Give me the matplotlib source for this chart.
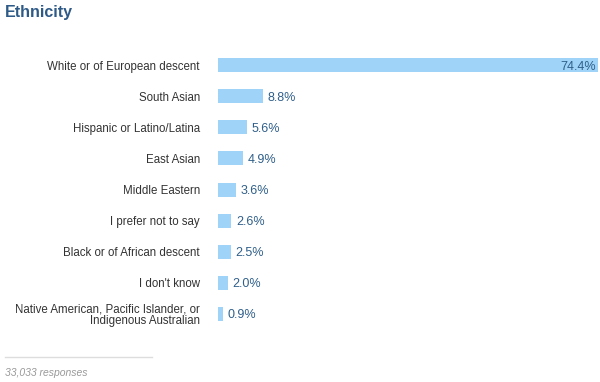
import matplotlib.pyplot as plt

plt.rcParams['font.family'] = ['Liberation Sans', 'DejaVu Sans']

categories = [
    'White or of European descent',
    'South Asian',
    'Hispanic or Latino/Latina',
    'East Asian',
    'Middle Eastern',
    'I prefer not to say',
    'Black or of African descent',
    "I don't know",
    'Native American, Pacific Islander, or\nIndigenous Australian',
]
values = [74.4, 8.8, 5.6, 4.9, 3.6, 2.6, 2.5, 2.0, 0.9]
responses = '33,033 responses'

bar_color = '#9fd4f8'
value_color = '#2f5f8a'

fig = plt.figure(figsize=(6, 3.82), dpi=100)
ax = fig.add_axes([218 / 600, 1 - 329.5 / 382, 380 / 600, 280 / 382])

pos = list(range(len(categories)))
ax.barh(pos, values, height=0.45, color=bar_color)
ax.set_xlim(0, max(values))
ax.set_ylim(len(categories) - 0.5, -0.5)

for i, v in enumerate(values):
    if v > 50:
        ax.text(v - 0.4, i + 0.05, f'{v:.1f}%', ha='right', va='center',
                fontsize=9, color=value_color)
    else:
        ax.text(v + 0.9, i + 0.05, f'{v:.1f}%', ha='left', va='center',
                fontsize=9, color=value_color)

ax.set_yticks(pos)
ax.set_yticklabels(categories, fontsize=8.3, color='#333333', linespacing=0.95)
ax.tick_params(axis='y', length=0, pad=13)
ax.set_xticks([])
for s in ax.spines.values():
    s.set_visible(False)

fig.text(5 / 600, 1 - 12 / 382, 'Ethnicity', fontsize=11.5, fontweight='bold',
         color='#2e5a87', ha='left', va='center')
fig.add_artist(plt.Line2D([5 / 600, 152 / 600], [1 - 357 / 382, 1 - 357 / 382],
                          color='#dddddd', lw=1))
fig.text(5 / 600, 1 - 373 / 382, responses, fontsize=7.5, style='italic',
         color='#999999', ha='left', va='center')

fig.savefig('out.png', dpi=100)
